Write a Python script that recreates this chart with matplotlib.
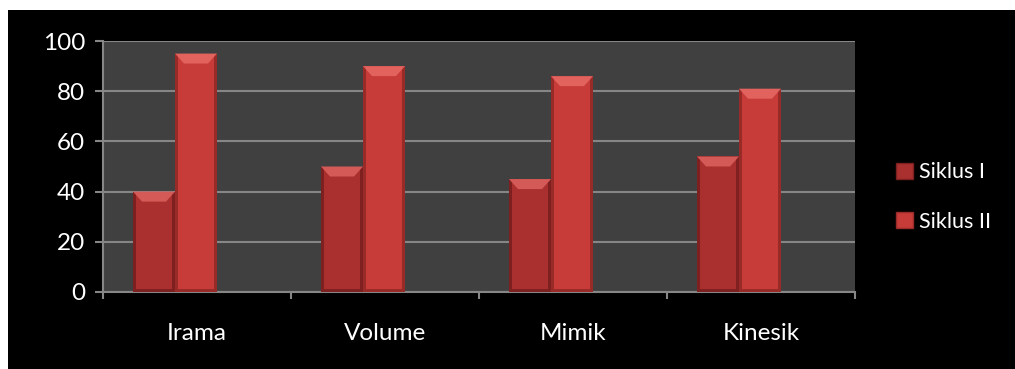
import matplotlib.pyplot as plt
from matplotlib.patches import Rectangle, Polygon, Patch
import numpy as np

plt.rcParams["font.family"] = ["Lato", "DejaVu Sans"]

categories = ["Irama", "Volume", "Mimik", "Kinesik"]
siklus_1 = [40, 50, 45, 54]
siklus_2 = [95, 90, 86, 81]
series_names = ["Siklus I", "Siklus II"]

W, H = 1015, 369
face = {"Siklus I": "#a9302e", "Siklus II": "#c73c39"}
edge = {"Siklus I": "#7e2020", "Siklus II": "#982a28"}
bevel = {"Siklus I": "#d45a57", "Siklus II": "#e2625e"}

fig = plt.figure(figsize=(W / 100, H / 100), dpi=100)
fig.patch.set_facecolor("white")
fig.add_artist(Rectangle((8 / W, 0), 1, 1 - 10 / H, transform=fig.transFigure,
                         facecolor="black", edgecolor="none", zorder=0))

ax = fig.add_axes([103 / W, (H - 292) / H, 752 / W, 251 / H])
ax.set_facecolor("#404040")
ax.set_xlim(-0.5, len(categories) - 0.5)
ax.set_ylim(0, 100)

# pixel -> data unit helpers
px_x = len(categories) / 752
px_y = 100 / 251

bar_w = 42 * px_x
shift = -22 * px_x
x = np.arange(len(categories))


def draw_bar(xl, val, name):
    xr = xl + bar_w
    ax.add_patch(Rectangle((xl, 0), bar_w, val, facecolor=edge[name],
                           edgecolor="none", zorder=3))
    ix, iy = 3 * px_x, 3 * px_y
    ax.add_patch(Rectangle((xl + ix, iy), bar_w - 2 * ix, val - 2 * iy,
                           facecolor=face[name], edgecolor="none", zorder=4))
    dx, dy = 9 * px_x, 10 * px_y
    ax.add_patch(Polygon([(xl, val), (xr, val), (xr - dx, val - dy), (xl + dx, val - dy)],
                         closed=True, facecolor=bevel[name], edgecolor="none", zorder=5))


for i in range(len(categories)):
    draw_bar(x[i] + shift - bar_w, siklus_1[i], "Siklus I")
    draw_bar(x[i] + shift, siklus_2[i], "Siklus II")

ax.set_yticks(range(0, 101, 20))
ax.grid(axis="y", color="#868686", linewidth=1.5, zorder=1)
ax.set_axisbelow(True)
for s in ["top", "right"]:
    ax.spines[s].set_visible(False)
for s in ["left", "bottom"]:
    ax.spines[s].set_color("#868686")
    ax.spines[s].set_linewidth(1.5)

ax.set_xticks(x)
ax.set_xticklabels(categories)
ax.set_xticks(np.arange(-0.5, len(categories)), minor=True)
ax.tick_params(axis="x", which="major", length=0, pad=22, labelsize=17.5, colors="white")
ax.tick_params(axis="x", which="minor", length=5, width=1.5, color="#868686")
ax.tick_params(axis="y", length=6, width=1.5, color="#868686", labelcolor="white",
               labelsize=17.5, pad=7)

handles = [Patch(facecolor=face[n], edgecolor=edge[n]) for n in series_names]
leg = fig.legend(handles, series_names, loc="center left",
                 bbox_to_anchor=(877 / W, 1 - 197 / H), frameon=False,
                 fontsize=15.5, labelcolor="white", handlelength=0.75,
                 handleheight=0.75, handletextpad=0.3, labelspacing=1.35)

fig.savefig("out.png", dpi=100, facecolor=fig.get_facecolor())
